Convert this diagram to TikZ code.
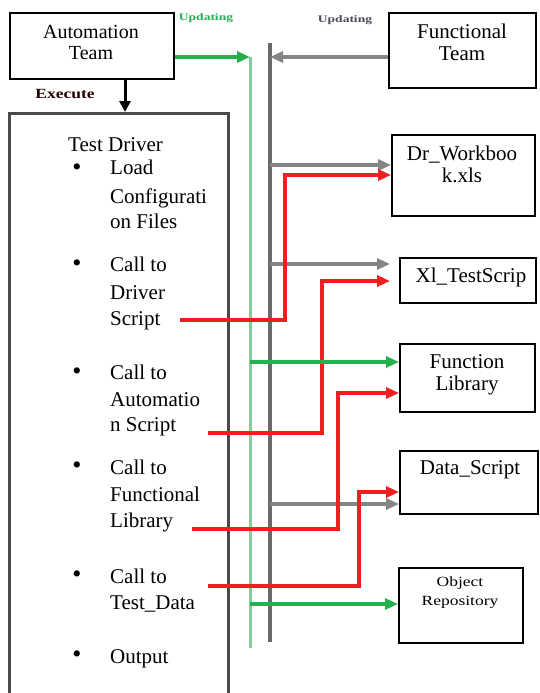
\documentclass[tikz,border=0pt]{standalone}
\usepackage{fontspec}
\setmainfont{Liberation Serif}
\usetikzlibrary{arrows.meta}
\definecolor{rd}{HTML}{F01E1E}
\definecolor{gn}{HTML}{22B14C}
\definecolor{lgn}{HTML}{82CC9E}
\definecolor{gy}{HTML}{858585}
\definecolor{dgy}{HTML}{6A6A6A}
\definecolor{lblgy}{HTML}{4A4A5A}
\begin{document}
\begin{tikzpicture}[x=1pt,y=-1pt,
  box/.style={draw=black,line width=1.8pt,rectangle,anchor=north west,inner sep=0pt},
  txt/.style={font=\fontsize{21}{22}\selectfont,align=center,inner sep=0pt},
  ln/.style={font=\fontsize{21}{27}\selectfont,inner sep=0pt,anchor=base west},
  bul/.style={font=\fontsize{26}{26}\selectfont,inner sep=0pt,anchor=center},
  tip/.style={-{Triangle[length=13pt,width=11pt]}},
  redarrow/.style={tip,draw=rd,line width=3.4pt,line join=miter},
  greenarrow/.style={tip,draw=gn,line width=3.4pt},
  greyarrow/.style={tip,draw=gy,line width=3.4pt},
  upd/.style={font=\bfseries\fontsize{10}{10}\selectfont,inner sep=0pt}
]
\useasboundingbox (0,0) rectangle (540,693);
\fill[white] (0,0) rectangle (540,693);

% boxes
\node[box,minimum width=164pt,minimum height=66pt] (auto) at (9,12) {};
\node[box,draw=dgy!70!black,line width=2.8pt,minimum width=219pt,minimum height=600pt] (drv) at (8,112) {};
\node[box,minimum width=147pt,minimum height=75pt] (ft) at (388,12) {};
\node[box,minimum width=143pt,minimum height=81pt] (dr) at (391,134) {};
\node[box,minimum width=136pt,minimum height=45pt] (xl) at (399,257) {};
\node[box,minimum width=135pt,minimum height=68pt] (fl) at (399,343) {};
\node[box,minimum width=138pt,minimum height=63pt] (ds) at (399,450) {};
\node[box,minimum width=124pt,minimum height=75pt] (or) at (398,567) {};

% box texts
\node[txt,font=\fontsize{20}{21}\selectfont] (autot) at (91,42.5) {Automation\\Team};
\node[txt] (ftt) at (462,42.5) {Functional\\Team};
\node[txt] (drt) at (462,164.5) {Dr\_Workboo\\k.xls};
\node[txt] (xlt) at (471,277.5) {Xl\_TestScrip};
\node[txt] (flt) at (467,374.5) {Function\\Library};
\node[txt] (dst) at (470,469.5) {Data\_Script};
\node[txt,font=\fontsize{14}{19}\selectfont] (ort) at (460,593) {\scalebox{1.25}[1]{Object}\\\scalebox{1.25}[1]{Repository}};

% labels
\node[upd,text=black!85!red] (exl) at (65,94) {\fontsize{14}{14}\selectfont\scalebox{1.25}[1]{Execute}};
\node[upd,text=gn] (updg) at (206,18) {\scalebox{1.35}[1]{Updating}};
\node[upd,text=lblgy] (updy) at (345,20) {\scalebox{1.35}[1]{Updating}};

% test driver contents
\node[ln] (td) at (68,151) {Test Driver};
\node[bul] (b1) at (77,170) {\textbullet};
\node[ln] (l1a) at (110,174) {Load};
\node[ln] (l1b) at (110,203) {Configurati};
\node[ln] (l1c) at (110,228) {on Files};
\node[bul] (b2) at (77,266) {\textbullet};
\node[ln] (l2a) at (110,271) {Call to};
\node[ln] (l2b) at (110,299) {Driver};
\node[ln] (l2c) at (110,325) {Script};
\node[bul] (b3) at (77,374) {\textbullet};
\node[ln] (l3a) at (110,379) {Call to};
\node[ln] (l3b) at (110,406) {Automatio};
\node[ln] (l3c) at (110,431) {n Script};
\node[bul] (b4) at (77,468) {\textbullet};
\node[ln] (l4a) at (110,474) {Call to};
\node[ln] (l4b) at (110,501) {Functional};
\node[ln] (l4c) at (110,527) {Library};
\node[bul] (b5) at (77,577) {\textbullet};
\node[ln] (l5a) at (110,583) {Call to};
\node[ln] (l5b) at (110,609) {Test\_Data};
\node[bul] (b6) at (77,657) {\textbullet};
\node[ln] (l6a) at (110,663) {Output};

% coordinates
\coordinate (ex) at (125,0);
\coordinate (gvtop) at (250,57);
\coordinate (gvbot) at (250,648);
\coordinate (yvtop) at (270,43);
\coordinate (yvbot) at (270,642);
\coordinate (yA) at (270,57);
\coordinate (y1) at (270,165);
\coordinate (y2) at (270,264);
\coordinate (y3) at (270,504);
\coordinate (g1) at (250,362);
\coordinate (g2) at (250,604);
\coordinate (r1s) at (180,320);
\coordinate (r1c) at (285,175);
\coordinate (r2s) at (208,433);
\coordinate (r2c) at (322,281);
\coordinate (r3s) at (192,529);
\coordinate (r3c) at (338,393);
\coordinate (r4s) at (208,586);
\coordinate (r4c) at (359,492);

% verticals
\draw[lgn,line width=3pt] (gvtop) -- (gvbot);
\draw[dgy,line width=3.6pt] (yvtop) -- (yvbot);

% execute arrow
\draw[-{Triangle[length=11pt,width=11pt]},line width=3pt] (auto.south -| ex) -- (drv.north -| ex);

% updating arrows
\draw[greenarrow] (auto.east |- gvtop) -- (gvtop);
\draw[greyarrow] (ft.west |- yA) -- (yA);

% grey arrows
\draw[greyarrow] (y1) -- (dr.west |- y1);
\draw[greyarrow,shorten >=9pt] (y2) -- (xl.west |- y2);
\draw[greyarrow] (y3) -- (ds.west |- y3);

% red arrows
\draw[redarrow] (r1s) -| (r1c) -- (dr.west |- r1c);
\draw[redarrow,shorten >=9pt] (r2s) -| (r2c) -- (xl.west |- r2c);
\draw[redarrow] (r3s) -| (r3c) -- (fl.west |- r3c);
\draw[redarrow] (r4s) -| (r4c) -- (ds.west |- r4c);

% green arrows
\draw[greenarrow] (g1) -- (fl.west |- g1);
\draw[greenarrow] (g2) -- (or.west |- g2);
\end{tikzpicture}
\end{document}
